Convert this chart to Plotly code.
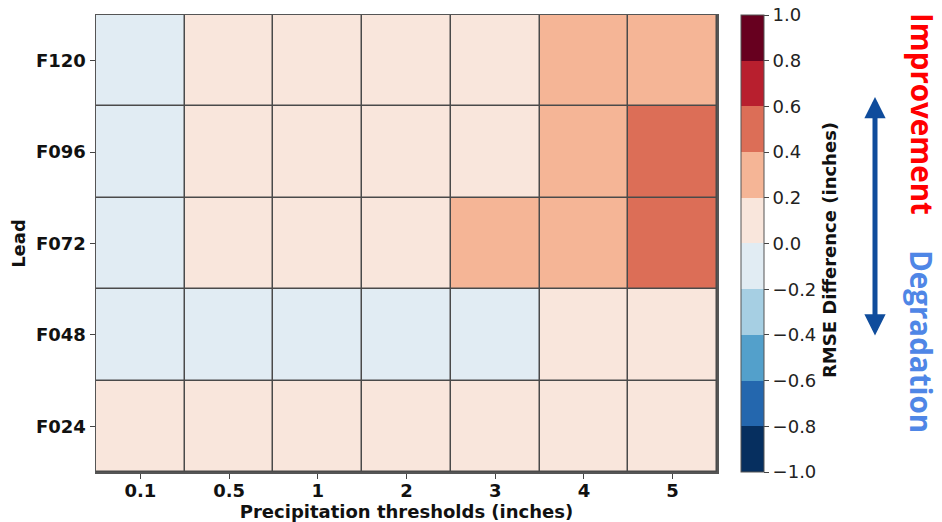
import plotly.graph_objects as go

thresholds = ["0.1", "0.5", "1", "2", "3", "4", "5"]
leads = ["F024", "F048", "F072", "F096", "F120"]
rmse_diff = [
    [0.1, 0.1, 0.1, 0.1, 0.1, 0.1, 0.1],
    [-0.1, -0.1, -0.1, -0.1, -0.1, 0.1, 0.1],
    [-0.1, 0.1, 0.1, 0.1, 0.3, 0.3, 0.5],
    [-0.1, 0.1, 0.1, 0.1, 0.1, 0.3, 0.5],
    [-0.1, 0.1, 0.1, 0.1, 0.1, 0.3, 0.3],
]
bin_colors = ["#062f5f", "#2467ae", "#53a0cb", "#a6cfe3", "#e1ecf3",
              "#f9e6dc", "#f5b596", "#dc6e57", "#b81f2e", "#67001f"]
cbar_ticks = [-1.0, -0.8, -0.6, -0.4, -0.2, 0.0, 0.2, 0.4, 0.6, 0.8, 1.0]

n = len(bin_colors)
colorscale = []
for i, c in enumerate(bin_colors):
    colorscale.append([i / n, c])
    colorscale.append([(i + 1) / n, c])

ticktext = [("\u2212" if v < 0 else "") + f"{abs(v):.1f}" for v in cbar_ticks]

FONT = "DejaVu Sans"
FS = 18
L, R, T, B = 96, 225, 15, 50
W, H = 942, 522

fig = go.Figure(go.Heatmap(
    z=rmse_diff, x=thresholds, y=leads,
    colorscale=colorscale, zmin=-1, zmax=1,
    xgap=1.5, ygap=1.5,
    colorbar=dict(
        xref="container", x=741 / W, xanchor="left", xpad=0,
        thickness=23, len=1, lenmode="fraction", y=0.5, ypad=0,
        outlinewidth=1, outlinecolor="#555",
        tickvals=cbar_ticks, ticktext=ticktext,
        ticks="outside", ticklen=5, tickcolor="#444", tickwidth=1,
        tickfont=dict(family=FONT, size=FS, color="#222"),
    ),
    hoverinfo="skip",
))

fig.update_layout(
    width=W, height=H,
    margin=dict(l=L, r=R, t=T, b=B, autoexpand=False),
    paper_bgcolor="white", plot_bgcolor="#4a4a4a",
    font=dict(family=FONT, color="#111"),
    xaxis=dict(
        automargin=False,
        showline=True, mirror=True, linecolor="#555", linewidth=1.5,
        ticks="outside", ticklen=5, tickcolor="#444",
        ticklabelstandoff=-3,
        tickfont=dict(family=FONT, size=FS, weight="bold", color="#111"),
        title=dict(text="Precipitation thresholds (inches)", standoff=6,
                   font=dict(family=FONT, size=FS, weight="bold")),
        showgrid=False, zeroline=False,
    ),
    yaxis=dict(
        automargin=False,
        showline=True, mirror=True, linecolor="#555", linewidth=1.5,
        ticks="outside", ticklen=5, tickcolor="#444",
        tickfont=dict(family=FONT, size=FS, weight="bold", color="#111"),
        title=dict(text="Lead", standoff=5,
                   font=dict(family=FONT, size=FS, weight="bold")),
        showgrid=False, zeroline=False,
    ),
)

def px_x(px):
    return (px - L) / (W - L - R)

def px_y(py):
    return (H - B - py) / (H - T - B)

fig.add_annotation(
    xref="paper", yref="paper", x=px_x(829), y=px_y(250),
    xanchor="center", yanchor="middle",
    text="<b>RMSE Difference (inches)</b>", textangle=-90, showarrow=False,
    font=dict(family=FONT, size=FS, color="#111"),
)
fig.add_annotation(
    xref="paper", yref="paper", x=px_x(875), y=px_y(97),
    ax=0, ay=240, axref="pixel", ayref="pixel",
    text="", showarrow=True, arrowside="end+start",
    arrowhead=2, arrowsize=0.85, arrowwidth=5, arrowcolor="#0f4c9c",
)
fig.add_annotation(
    xref="paper", yref="paper", x=px_x(922), y=px_y(114),
    xanchor="center", yanchor="middle",
    text="<b>Improvement</b>", textangle=90, showarrow=False,
    font=dict(family="Open Sans", size=29.5, color="#ff0000"),
)
fig.add_annotation(
    xref="paper", yref="paper", x=px_x(922), y=px_y(341),
    xanchor="center", yanchor="middle",
    text="<b>Degradation</b>", textangle=90, showarrow=False,
    font=dict(family="Open Sans", size=29.5, color="#4f86e6"),
)

fig.write_html(
    "out.html",
    config={"displayModeBar": False, "staticPlot": True},
    post_script="document.body.style.margin='0';document.body.style.overflow='hidden';",
)
